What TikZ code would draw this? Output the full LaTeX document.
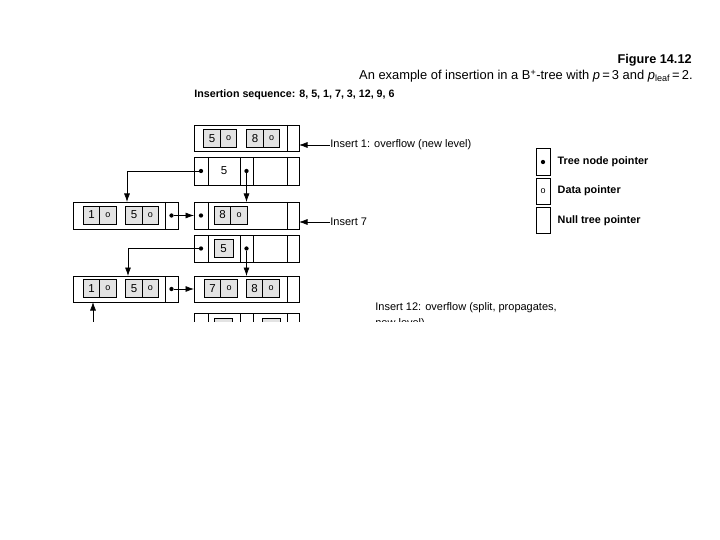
\documentclass[tikz,border=0pt]{standalone}
\usepackage{fontspec}
\setmainfont{Liberation Sans}
\usetikzlibrary{arrows.meta,positioning}

\begin{document}
\begin{tikzpicture}[x=1pt,y=-1pt,line width=0.7pt,
  >={Latex[length=8.5pt,width=6pt]},
  nodebox/.style={draw,minimum width=105,minimum height=#1,inner sep=0,outer sep=0},
  keycell/.style={draw,fill=gray!22,minimum width=16.5,minimum height=18,inner sep=0,outer sep=0,font=\fontsize{11.5}{11.5}\selectfont},
  ptrcell/.style={keycell,font=\fontsize{9}{9}\selectfont},
  ptrdot/.style={circle,fill=black,inner sep=0,minimum size=4.3pt},
  lbl/.style={anchor=west,inner sep=0,font=\fontsize{11}{13}\selectfont},
  legtext/.style={anchor=west,inner sep=0,font=\fontsize{10.8}{11}\selectfont\bfseries},
  legbox/.style={draw,minimum width=14,minimum height=26.5,inner sep=0}]
\useasboundingbox (0,0) rectangle (720,540);

% captions
\node[anchor=east,inner sep=0,font=\fontsize{12.7}{13}\selectfont\bfseries] (fig) at (692,60) {Figure 14.12};
\node[anchor=east,inner sep=0,font=\fontsize{12.9}{13}\selectfont] (cap) at (693,76)
  {An example of insertion in a B\textsuperscript{+}-tree with \textit{p}\,=\,3 and \textit{p}\textsubscript{leaf}\,=\,2.};
\node[anchor=west,inner sep=0,font=\fontsize{10.7}{11}\selectfont\bfseries] (seq) at (194,95) {Insertion sequence: 8, 5, 1, 7, 3, 12, 9, 6};

\begin{scope}
\clip (0,0) rectangle (720,321);

% insert 1: root splits
\node[nodebox=26] (root) at (246.5,138) {};
\draw ([xshift=-12]root.north east) -- ([xshift=-12]root.south east);
\node[keycell] (r5) at (212,138.5) {5};
\node[ptrcell,right=0pt of r5] (r5d) {o};
\node[keycell] (r8) at (255,138.5) {8};
\node[ptrcell,right=0pt of r8] (r8d) {o};
\node[lbl] (ins1) at (330,145) {Insert 1: overflow (new level)};
\draw[->] (ins1.west) -- (ins1.west -| root.east);

\node[nodebox=28] (inA) at (246.5,171) {};
\foreach \dx in {14,46,59,93}
  \draw ([xshift=\dx]inA.north west) -- ([xshift=\dx]inA.south west);
\node[font=\fontsize{11.5}{11.5}\selectfont] (inAk) at (224,171) {5};
\node[ptrdot] (a1) at (201,171) {};
\node[ptrdot] (a2) at (246.5,171) {};

\node[nodebox=27] (leafA) at (125.5,215.5) {};
\draw ([xshift=-13]leafA.north east) -- ([xshift=-13]leafA.south east);
\node[keycell] (la1) at (91.5,215) {1};
\node[ptrcell,right=0pt of la1] (la1d) {o};
\node[keycell] (la5) at (134,215) {5};
\node[ptrcell,right=0pt of la5] (la5d) {o};
\node[ptrdot] (pA) at (171.5,215.5) {};

\node[nodebox=27] (leafB) at (246.5,215.5) {};
\draw ([xshift=14]leafB.north west) -- ([xshift=14]leafB.south west);
\draw ([xshift=-12]leafB.north east) -- ([xshift=-12]leafB.south east);
\node[ptrdot] (pB) at (201,215.5) {};
\node[keycell] (lb8) at (222.5,215) {8};
\node[ptrcell,right=0pt of lb8] (lb8d) {o};

\draw[->] (a1) -| ([xshift=1.5]leafA.north);
\draw[->] (a2) -- (a2 |- leafB.north);
\draw[->] (pA) -- (pA -| leafB.west);
\node[lbl] (ins7) at (330,222) {Insert 7};
\draw[->] (ins7.west) -- (ins7.west -| leafB.east);

% insert 7
\node[nodebox=27] (inB) at (246.5,248.5) {};
\foreach \dx in {14,46,59,93}
  \draw ([xshift=\dx]inB.north west) -- ([xshift=\dx]inB.south west);
\node[keycell,minimum width=19] (inBk) at (223.5,248.5) {5};
\node[ptrdot] (b1) at (201,248.5) {};
\node[ptrdot] (b2) at (246.5,248.5) {};

\node[nodebox=26] (leafC) at (125.5,289) {};
\draw ([xshift=-13]leafC.north east) -- ([xshift=-13]leafC.south east);
\node[keycell] (lc1) at (91.5,288.5) {1};
\node[ptrcell,right=0pt of lc1] (lc1d) {o};
\node[keycell] (lc5) at (134,288.5) {5};
\node[ptrcell,right=0pt of lc5] (lc5d) {o};
\node[ptrdot] (pC) at (171.5,289) {};

\node[nodebox=26] (leafD) at (246.5,289) {};
\draw ([xshift=-12]leafD.north east) -- ([xshift=-12]leafD.south east);
\node[keycell] (ld7) at (212.5,288.5) {7};
\node[ptrcell,right=0pt of ld7] (ld7d) {o};
\node[keycell] (ld8) at (254.5,288.5) {8};
\node[ptrcell,right=0pt of ld8] (ld8d) {o};

\draw[->] (b1) -| ([xshift=2.5]leafC.north);
\draw[->] (b2) -- (b2 |- leafD.north);
\draw[->] (pC) -- (pC -| leafD.west);
\coordinate (upC) at (93,330);
\draw[->] (upC) -- (upC |- leafC.south);

% insert 12
\node[lbl,anchor=north west,align=left,font=\fontsize{11}{16}\selectfont] (ins12) at (375,302) {Insert 12: overflow (split, propagates,\\new level)};
\node[nodebox=28] (inC) at (246.5,327) {};
\foreach \dx in {14,46,59,93}
  \draw ([xshift=\dx]inC.north west) -- ([xshift=\dx]inC.south west);
\node[keycell,minimum width=18] (inC1) at (223,327) {};
\node[keycell,minimum width=18] (inC2) at (271,327) {};
\end{scope}

% legend
\node[legbox] (lg1) at (543,162) {};
\node[ptrdot] (lg1d) at (lg1) {};
\node[legbox,below=2pt of lg1,font=\fontsize{9}{9}\selectfont] (lg2) {o};
\node[legbox,below=2pt of lg2] (lg3) {};
\node[legtext,right=7pt of lg1] (lt1) {Tree node pointer};
\node[legtext,right=7pt of lg2] (lt2) {Data pointer};
\node[legtext,right=7pt of lg3] (lt3) {Null tree pointer};
\end{tikzpicture}
\end{document}
